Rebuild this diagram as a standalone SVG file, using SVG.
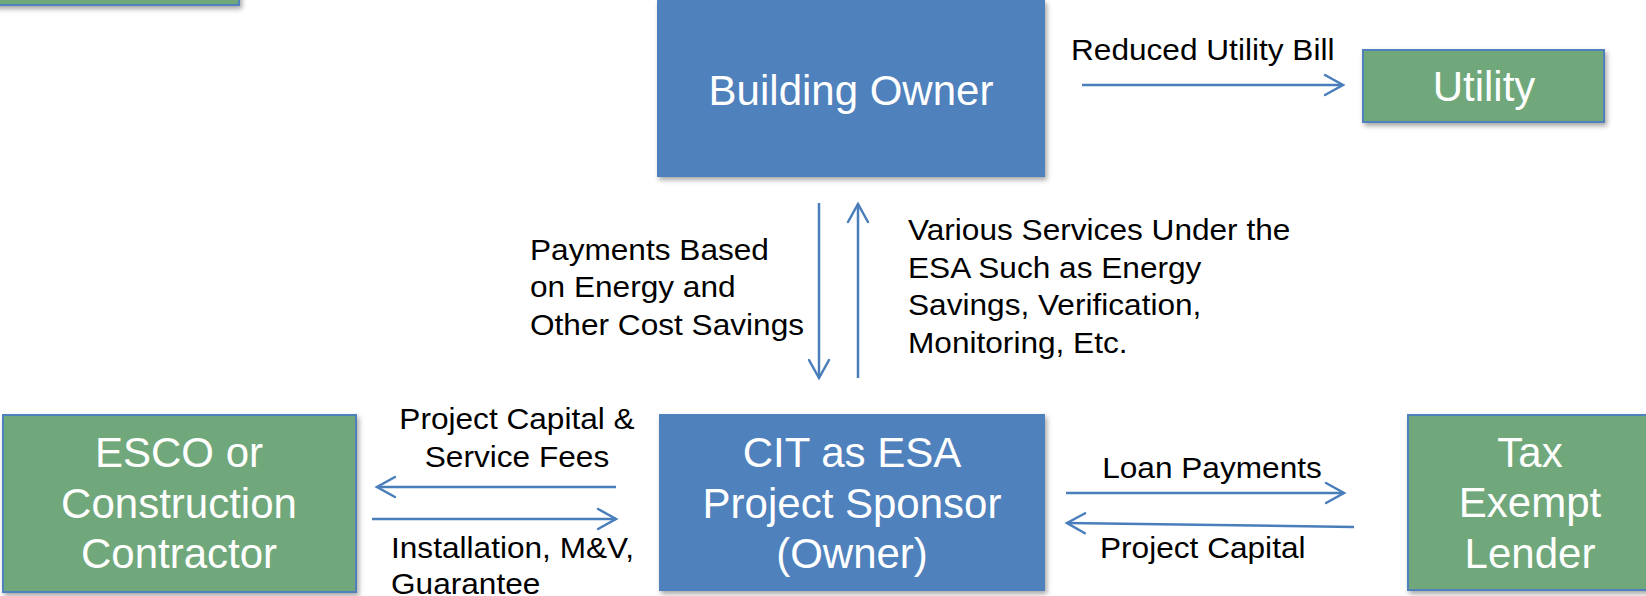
<svg xmlns="http://www.w3.org/2000/svg" width="1646" height="596" viewBox="0 0 1646 596">
  <defs>
    <filter id="shadow" x="-10%" y="-10%" width="120%" height="130%">
      <feDropShadow dx="2" dy="3" stdDeviation="2.5" flood-color="#000" flood-opacity="0.35"/>
    </filter>
    <marker id="chev" viewBox="-22 -13 26 26" refX="0" refY="0" markerWidth="26" markerHeight="26" markerUnits="userSpaceOnUse" orient="auto">
      <path d="M-18,-10 L0,0 L-18,10" fill="none" stroke="#4a7ebb" stroke-width="2.5" stroke-linecap="round"/>
    </marker>
  </defs>
  <style>
    .blue { fill: #4f81bd; }
    .green { fill: #70a87b; stroke: #4f81bd; stroke-width: 2; }
    .node-text { font-family: "Liberation Sans", Arial, sans-serif; font-size: 42px; fill: #ffffff; text-anchor: middle; }
    .label { font-family: "Liberation Sans", Arial, sans-serif; font-size: 29px; fill: #000000; }
    .mid { text-anchor: middle; }
    .conn { fill: none; stroke: #4a7ebb; stroke-width: 2.5; marker-end: url(#chev); }
  </style>

  <rect width="1646" height="596" fill="#ffffff"/>

  <!-- partially visible box, top-left corner -->
  <g id="node-top-left">
    <rect class="green" x="-10" y="-60" width="249" height="65" filter="url(#shadow)"/>
  </g>

  <g id="node-building-owner">
    <rect class="blue" x="657" y="0" width="388" height="177" filter="url(#shadow)"/>
    <text class="node-text" x="851" y="105">Building Owner</text>
  </g>

  <g id="node-utility">
    <rect class="green" x="1363" y="50" width="241" height="72" filter="url(#shadow)"/>
    <text class="node-text" x="1484" y="101">Utility</text>
  </g>

  <g id="node-esco">
    <rect class="green" x="3" y="415" width="353" height="177" filter="url(#shadow)"/>
    <text class="node-text" x="179" y="467">ESCO or</text>
    <text class="node-text" x="179" y="518">Construction</text>
    <text class="node-text" x="179" y="568">Contractor</text>
  </g>

  <g id="node-cit">
    <rect class="blue" x="659" y="414" width="386" height="177" filter="url(#shadow)"/>
    <text class="node-text" x="852" y="467">CIT as ESA</text>
    <text class="node-text" x="852" y="518">Project Sponsor</text>
    <text class="node-text" x="852" y="568">(Owner)</text>
  </g>

  <g id="node-lender">
    <rect class="green" x="1408" y="415" width="250" height="175" filter="url(#shadow)"/>
    <text class="node-text" x="1530" y="467">Tax</text>
    <text class="node-text" x="1530" y="517">Exempt</text>
    <text class="node-text" x="1530" y="568">Lender</text>
  </g>

  <g id="connectors">
    <line class="conn" x1="1082" y1="85" x2="1343" y2="85"/>
    <line class="conn" x1="819" y1="203" x2="819" y2="378"/>
    <line class="conn" x1="858" y1="378" x2="858" y2="204"/>
    <line class="conn" x1="616" y1="487" x2="377" y2="487"/>
    <line class="conn" x1="372" y1="519" x2="616" y2="519"/>
    <line class="conn" x1="1066" y1="493" x2="1344" y2="493"/>
    <line class="conn" x1="1354" y1="527" x2="1067" y2="523"/>
  </g>

  <g id="labels">
    <text class="label" transform="translate(1071 60) scale(1.09 1)">Reduced Utility Bill</text>

    <text class="label" transform="translate(530 260) scale(1.09 1)">Payments Based</text>
    <text class="label" transform="translate(530 297) scale(1.09 1)">on Energy and</text>
    <text class="label" transform="translate(530 335) scale(1.09 1)">Other Cost Savings</text>

    <text class="label" transform="translate(908 240) scale(1.09 1)">Various Services Under the</text>
    <text class="label" transform="translate(908 278) scale(1.09 1)">ESA Such as Energy</text>
    <text class="label" transform="translate(908 315) scale(1.09 1)">Savings, Verification,</text>
    <text class="label" transform="translate(908 353) scale(1.09 1)">Monitoring, Etc.</text>

    <text class="label mid" transform="translate(517 429) scale(1.09 1)">Project Capital &amp;</text>
    <text class="label mid" transform="translate(517 467) scale(1.09 1)">Service Fees</text>

    <text class="label" transform="translate(391 558) scale(1.09 1)">Installation, M&amp;V,</text>
    <text class="label" transform="translate(391 594) scale(1.09 1)">Guarantee</text>

    <text class="label mid" transform="translate(1212 478) scale(1.09 1)">Loan Payments</text>
    <text class="label" transform="translate(1100 558) scale(1.09 1)">Project Capital</text>
  </g>
</svg>
